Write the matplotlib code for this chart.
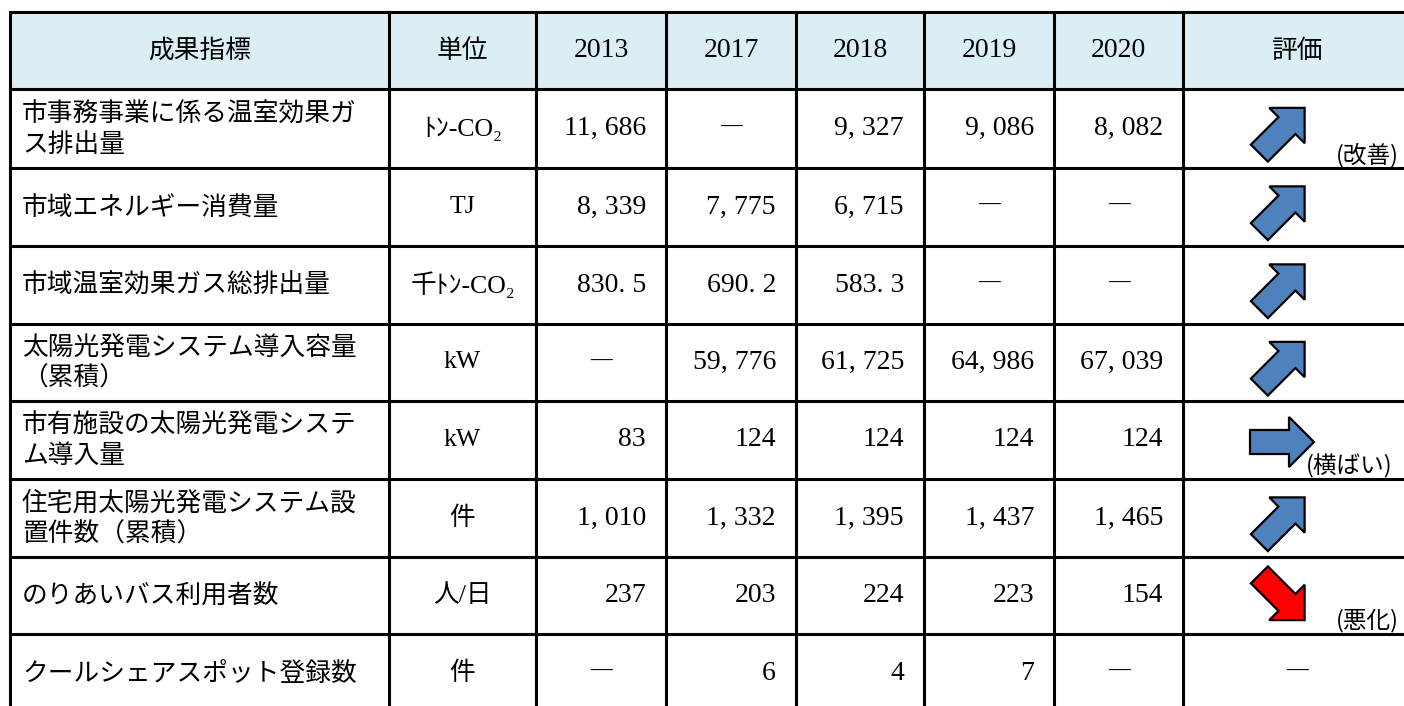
import matplotlib.pyplot as plt
from matplotlib.patches import Polygon, Rectangle
import numpy as np

plt.rcParams['font.family'] = ['Noto Sans CJK JP', 'DejaVu Sans']

# table content
header = ['成果指標', '単位', '2013', '2017', '2018', '2019', '2020', '評価']
indicators = ['市事務事業に係る温室効果ガ\nス排出量',
              '市域エネルギー消費量',
              '市域温室効果ガス総排出量',
              '太陽光発電システム導入容量\n（累積）',
              '市有施設の太陽光発電システ\nム導入量',
              '住宅用太陽光発電システム設\n置件数（累積）',
              'のりあいバス利用者数',
              'クールシェアスポット登録数']
units = ['ﾄﾝ-CO₂', 'TJ', '千ﾄﾝ-CO₂', 'kW', 'kW', '件', '人/日', '件']
v2013 = [11686, 8339, 830.5, None, 83, 1010, 237, None]
v2017 = [None, 7775, 690.2, 59776, 124, 1332, 203, 6]
v2018 = [9327, 6715, 583.3, 61725, 124, 1395, 224, 4]
v2019 = [9086, None, None, 64986, 124, 1437, 223, 7]
v2020 = [8082, None, None, 67039, 124, 1465, 154, None]
trend = ['up', 'up', 'up', 'up', 'flat', 'up', 'down', None]
trend_label = ['(改善)', '', '', '', '(横ばい)', '', '(悪化)', '']

# layout in pixels
col_x = [10, 389, 536, 666, 796, 924, 1054, 1183, 1411]
row_y = [12, 89, 168, 246, 324, 401, 479, 557, 634, 712]
HEAD_BG = '#DAEEF3'
BLUE = '#4F81BD'
RED = '#FF0000'
serif = ['Liberation Serif', 'Noto Sans CJK JP']
FS = 18.5
NUM_FS = 20


def fmt(v):
    if v is None:
        return '―'
    if isinstance(v, float):
        return f'{v:.1f}'.replace('.', '. ')
    return f'{v:,}'.replace(',', ', ')


def arrow(ax, cx, cy, kind):
    angle = {'up': 45, 'flat': 0, 'down': -45}[kind]
    shape = np.array([(-32, -12), (7, -12), (7, -25), (32, 0),
                      (7, 25), (7, 12), (-32, 12)], dtype=float)
    t = np.radians(angle)
    d = np.array([np.cos(t), -np.sin(t)])
    n = np.array([np.sin(t), np.cos(t)])
    pts = np.array([cx, cy]) + shape[:, :1] * d + shape[:, 1:] * n
    ax.add_patch(Polygon(pts, closed=True, fc=RED if kind == 'down' else BLUE,
                         ec='black', lw=1.6, zorder=3))


fig = plt.figure(figsize=(14.04, 7.06), dpi=100)
ax = fig.add_axes([0, 0, 1, 1])
ax.set_xlim(0, 1404)
ax.set_ylim(706, 0)
ax.axis('off')

ax.add_patch(Rectangle((col_x[0], row_y[0]), col_x[-1] - col_x[0], row_y[1] - row_y[0],
                       fc=HEAD_BG, ec='none', zorder=0))
for x in col_x:
    ax.plot([x, x], [row_y[0], row_y[-1]], color='black', lw=2.2, zorder=2)
for y in row_y:
    ax.plot([col_x[0], col_x[-1]], [y, y], color='black', lw=2.2, zorder=2)

# header
hy = (row_y[0] + row_y[1]) / 2
for i, h in enumerate(header):
    cx = (col_x[i] + col_x[i + 1]) / 2
    if h.isdigit():
        ax.text(cx, hy, h, ha='center', va='center', fontsize=NUM_FS, family=serif)
    else:
        ax.text(cx, hy, h, ha='center', va='center', fontsize=FS)

years = [v2013, v2017, v2018, v2019, v2020]
for r in range(len(indicators)):
    cy = (row_y[r + 1] + row_y[r + 2]) / 2
    ax.text(22, cy + 1, indicators[r], ha='left', va='center', fontsize=FS,
            linespacing=1.22)
    ax.text((col_x[1] + col_x[2]) / 2, cy, units[r], ha='center', va='center',
            fontsize=FS, family=serif)
    for c, vals in enumerate(years):
        v = vals[r]
        left, right = col_x[c + 2], col_x[c + 3]
        if v is None:
            ax.text((left + right) / 2, cy, fmt(v), ha='center', va='center',
                    fontsize=FS)
        else:
            ax.text(right - 20, cy, fmt(v), ha='right', va='center',
                    fontsize=NUM_FS, family=serif)
    if trend[r] is None:
        ax.text(1297, cy, '―', ha='center', va='center', fontsize=FS)
    else:
        arrow(ax, 1282, cy + 2, trend[r])
    if trend_label[r]:
        lx = 1306 if trend[r] == 'flat' else 1336
        ax.text(lx, row_y[r + 2] - 13, trend_label[r], ha='left', va='center',
                fontsize=FS - 1.5)

fig.savefig('out.png', dpi=100)
